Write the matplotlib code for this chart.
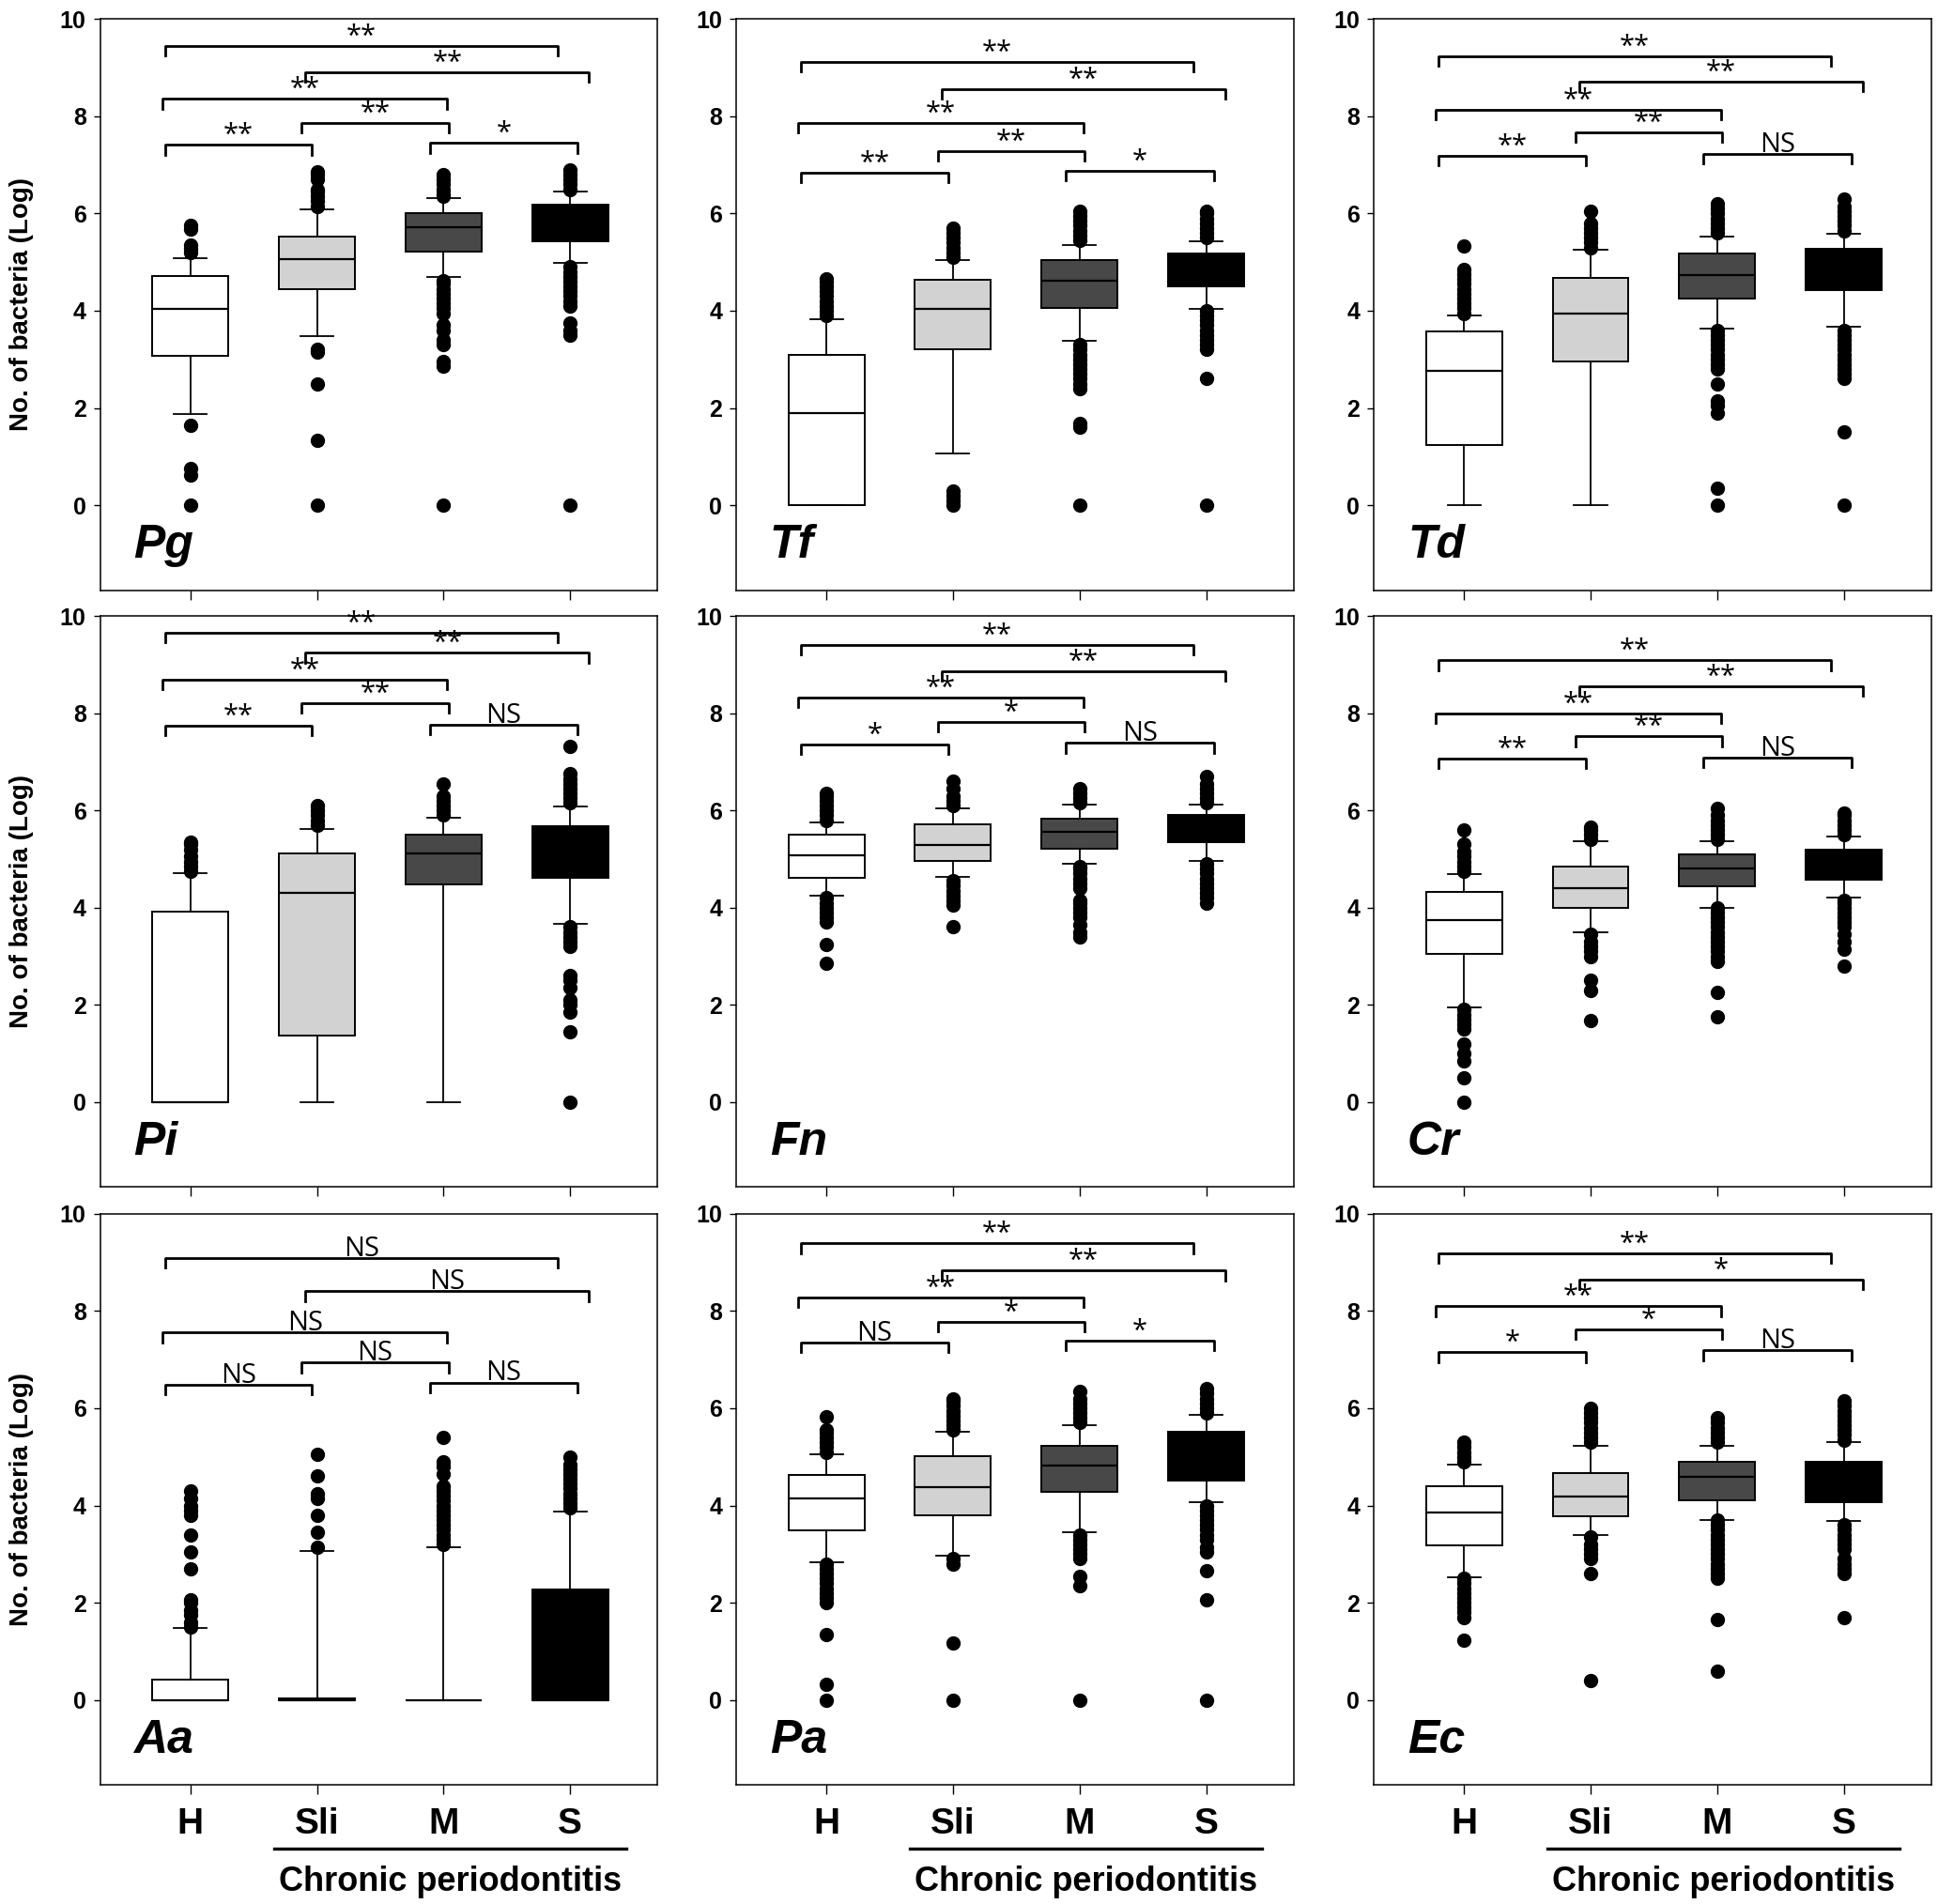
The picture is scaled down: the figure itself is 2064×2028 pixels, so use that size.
import matplotlib
matplotlib.use('Agg')
import matplotlib.pyplot as plt
from matplotlib import transforms

plt.rcParams['font.family'] = ['Liberation Sans', 'DejaVu Sans']

# Gruppen und Farben
groups = ['H', 'Sli', 'M', 'S']
box_colors = ['#ffffff', '#d2d2d2', '#484848', '#000000']

# Klammern: H-S, Sli-S, H-M, Sli-M, H-Sli, M-S
bracket_x = [(0.80, 3.90), (1.91, 4.15), (0.78, 3.03),
             (1.88, 3.04), (0.80, 1.96), (2.89, 4.06)]

# je Gruppe: [unterer Whisker, Q1, Median, Q3, oberer Whisker]
pg_stats = [[1.88, 3.07, 4.04, 4.71, 5.09], [3.48, 4.44, 5.06, 5.52, 6.09],
            [4.69, 5.22, 5.71, 6.01, 6.32], [4.99, 5.42, 5.85, 6.18, 6.46]]
pg_fliers = [[0, 0.62, 0.75, 1.65, 5.2, 5.27, 5.35, 5.67, 5.75],
             [0, 1.33, 2.5, 3.15, 3.2, 6.15, 6.25, 6.35, 6.45, 6.5, 6.7, 6.8, 6.85],
             [0, 2.85, 2.95, 3.3, 3.4, 3.6, 3.7, 3.95, 4.05, 4.15, 4.25, 4.35, 4.45, 4.55, 4.62,
              6.35, 6.4, 6.5, 6.6, 6.7, 6.8],
             [0, 3.5, 3.6, 3.75, 4.1, 4.2, 4.3, 4.4, 4.5, 4.6, 4.7, 4.8, 4.9,
              6.5, 6.6, 6.7, 6.8, 6.9]]
pg_sig = ['**', '**', '**', '**', '**', '*']
pg_levels = [9.45, 8.91, 8.36, 7.87, 7.41, 7.45]

tf_stats = [[0, 0, 1.89, 3.09, 3.83], [1.06, 3.21, 4.04, 4.63, 5.05],
            [3.39, 4.06, 4.61, 5.05, 5.36], [4.04, 4.51, 4.85, 5.17, 5.42]]
tf_fliers = [[3.9, 4.0, 4.1, 4.2, 4.3, 4.4, 4.5, 4.6, 4.65],
             [0, 0.1, 0.2, 0.3, 5.1, 5.2, 5.3, 5.4, 5.5, 5.6, 5.7],
             [0, 1.6, 1.68, 2.4, 2.5, 2.6, 2.7, 2.8, 2.9, 3.0, 3.1, 3.2, 3.3,
              5.45, 5.55, 5.65, 5.75, 5.85, 5.95, 6.05],
             [0, 2.6, 3.2, 3.3, 3.4, 3.5, 3.6, 3.7, 3.8, 3.9, 4.0,
              5.5, 5.6, 5.7, 5.8, 5.9, 6.0, 6.05]]
tf_sig = ['**', '**', '**', '**', '**', '*']
tf_levels = [9.12, 8.56, 7.87, 7.29, 6.84, 6.88]

td_stats = [[0, 1.23, 2.76, 3.57, 3.91], [0, 2.95, 3.95, 4.67, 5.25],
            [3.63, 4.25, 4.74, 5.18, 5.52], [3.67, 4.42, 4.85, 5.28, 5.58]]
td_fliers = [[3.95, 4.05, 4.15, 4.25, 4.35, 4.45, 4.55, 4.65, 4.75, 4.85, 5.34],
             [5.3, 5.4, 5.5, 5.6, 5.7, 5.8, 6.05],
             [0, 0.35, 1.9, 2.05, 2.15, 2.5, 2.8, 2.9, 3.0, 3.1, 3.2, 3.3, 3.4, 3.5, 3.6,
              5.6, 5.7, 5.8, 5.9, 6.0, 6.1, 6.2],
             [0, 1.5, 2.6, 2.7, 2.8, 2.9, 3.0, 3.1, 3.2, 3.3, 3.4, 3.5, 3.6,
              5.65, 5.75, 5.85, 5.95, 6.05, 6.15, 6.3]]
td_sig = ['**', '**', '**', '**', '**', 'NS']
td_levels = [9.24, 8.71, 8.14, 7.67, 7.19, 7.23]

pi_stats = [[0, 0, 0, 3.92, 4.70], [0, 1.37, 4.30, 5.12, 5.61],
            [0, 4.47, 5.11, 5.50, 5.85], [3.66, 4.62, 5.2, 5.68, 6.09]]
pi_fliers = [[4.75, 4.85, 4.95, 5.05, 5.2, 5.3, 5.35],
             [5.7, 5.8, 5.9, 6.0, 6.1],
             [5.9, 6.0, 6.1, 6.2, 6.3, 6.55],
             [0, 1.45, 1.85, 2.0, 2.1, 2.35, 2.5, 2.6, 3.2, 3.3, 3.4, 3.5, 3.6,
              6.15, 6.25, 6.35, 6.45, 6.55, 6.65, 6.75, 7.32]]
pi_sig = ['**', '**', '**', '**', '**', 'NS']
pi_levels = [9.66, 9.24, 8.69, 8.21, 7.74, 7.76]

fn_stats = [[4.24, 4.61, 5.07, 5.51, 5.76], [4.63, 4.96, 5.28, 5.72, 6.04],
            [4.90, 5.21, 5.55, 5.82, 6.12], [4.97, 5.34, 5.6, 5.90, 6.11]]
fn_fliers = [[2.85, 3.25, 3.7, 3.8, 3.9, 4.0, 4.1, 4.2, 5.8, 5.9, 6.0, 6.1, 6.2, 6.3, 6.35],
             [3.6, 4.05, 4.15, 4.25, 4.35, 4.45, 4.55, 6.1, 6.2, 6.3, 6.45, 6.6],
             [3.4, 3.5, 3.65, 3.8, 3.9, 4.0, 4.1, 4.15, 4.4, 4.5, 4.6, 4.7, 4.8, 4.85,
              6.15, 6.25, 6.35, 6.45],
             [4.1, 4.2, 4.3, 4.4, 4.5, 4.6, 4.7, 4.8, 4.9,
              6.15, 6.25, 6.35, 6.45, 6.55, 6.7]]
fn_sig = ['**', '**', '**', '*', '*', 'NS']
fn_levels = [9.41, 8.87, 8.32, 7.82, 7.36, 7.39]

cr_stats = [[1.94, 3.04, 3.74, 4.33, 4.69], [3.49, 4.00, 4.41, 4.85, 5.36],
            [4.00, 4.43, 4.80, 5.09, 5.36], [4.20, 4.57, 4.9, 5.20, 5.47]]
cr_fliers = [[0, 0.5, 0.85, 1.0, 1.2, 1.5, 1.6, 1.7, 1.8, 1.9,
              4.75, 4.85, 4.95, 5.05, 5.15, 5.3, 5.6],
             [1.68, 2.3, 2.5, 3.0, 3.1, 3.2, 3.3, 3.45, 5.4, 5.5, 5.6, 5.65],
             [1.75, 2.25, 2.9, 3.0, 3.1, 3.2, 3.3, 3.4, 3.5, 3.6, 3.7, 3.8, 3.9, 4.0,
              5.4, 5.5, 5.6, 5.7, 5.8, 5.9, 6.05],
             [2.8, 3.15, 3.3, 3.45, 3.6, 3.7, 3.8, 3.9, 4.0, 4.1, 4.15,
              5.5, 5.6, 5.7, 5.8, 5.9, 5.95]]
cr_sig = ['**', '**', '**', '**', '**', 'NS']
cr_levels = [9.09, 8.55, 8.00, 7.52, 7.07, 7.09]

aa_stats = [[0, 0, 0, 0.42, 1.48], [0, 0, 0, 0.03, 3.06],
            [0, 0, 0, 0, 3.14], [0, 0, 0, 2.27, 3.88]]
aa_fliers = [[1.5, 1.6, 1.75, 1.85, 2.0, 2.05, 2.7, 3.05, 3.4, 3.8, 3.9, 4.0, 4.15, 4.3],
             [3.15, 3.45, 3.8, 4.15, 4.25, 4.6, 5.05],
             [3.2, 3.3, 3.4, 3.5, 3.6, 3.7, 3.8, 3.9, 4.0, 4.1, 4.2, 4.3, 4.4, 4.65, 4.8, 4.9, 5.4],
             [3.95, 4.05, 4.15, 4.25, 4.35, 4.45, 4.55, 4.65, 4.75, 4.85, 5.0]]
aa_sig = ['NS', 'NS', 'NS', 'NS', 'NS', 'NS']
aa_levels = [9.09, 8.41, 7.56, 6.94, 6.48, 6.53]

pa_stats = [[2.84, 3.49, 4.14, 4.62, 5.06], [2.97, 3.80, 4.38, 5.02, 5.51],
            [3.45, 4.28, 4.83, 5.23, 5.65], [4.06, 4.52, 5.0, 5.51, 5.86]]
pa_fliers = [[0, 0.33, 1.35, 2.0, 2.1, 2.2, 2.3, 2.4, 2.5, 2.6, 2.7, 2.8,
              5.1, 5.2, 5.3, 5.4, 5.5, 5.55, 5.82],
             [0, 1.17, 2.8, 2.9, 5.55, 5.65, 5.75, 5.85, 5.95, 6.05, 6.15, 6.2],
             [0, 2.35, 2.55, 2.9, 3.0, 3.1, 3.2, 3.3, 3.4,
              5.7, 5.8, 5.9, 6.0, 6.1, 6.2, 6.35],
             [0, 2.05, 2.65, 3.05, 3.15, 3.3, 3.4, 3.5, 3.6, 3.7, 3.8, 3.9, 4.0,
              5.9, 6.0, 6.1, 6.2, 6.3, 6.4]]
pa_sig = ['**', '**', '**', '*', 'NS', '*']
pa_levels = [9.39, 8.83, 8.28, 7.78, 7.35, 7.39]

ec_stats = [[2.53, 3.18, 3.86, 4.39, 4.84], [3.39, 3.77, 4.18, 4.66, 5.23],
            [3.71, 4.10, 4.59, 4.89, 5.23], [3.69, 4.06, 4.5, 4.89, 5.31]]
ec_fliers = [[1.22, 1.7, 1.8, 1.9, 2.0, 2.1, 2.2, 2.3, 2.4, 2.5, 4.9, 5.0, 5.1, 5.2, 5.3],
             [0.4, 2.6, 2.9, 3.0, 3.1, 3.2, 3.35, 5.3, 5.4, 5.5, 5.6, 5.7, 5.8, 5.9, 6.0],
             [0.6, 1.65, 2.5, 2.6, 2.7, 2.8, 2.9, 3.0, 3.1, 3.2, 3.3, 3.4, 3.5, 3.6, 3.7,
              5.3, 5.4, 5.5, 5.6, 5.7, 5.8],
             [1.7, 2.6, 2.7, 2.8, 2.9, 3.1, 3.2, 3.3, 3.4, 3.5, 3.6,
              5.35, 5.45, 5.55, 5.65, 5.75, 5.85, 5.95, 6.05, 6.15]]
ec_sig = ['**', '*', '**', '*', '*', 'NS']
ec_levels = [9.19, 8.65, 8.10, 7.62, 7.15, 7.19]

panels = [('Pg', pg_stats, pg_fliers, pg_sig, pg_levels),
          ('Tf', tf_stats, tf_fliers, tf_sig, tf_levels),
          ('Td', td_stats, td_fliers, td_sig, td_levels),
          ('Pi', pi_stats, pi_fliers, pi_sig, pi_levels),
          ('Fn', fn_stats, fn_fliers, fn_sig, fn_levels),
          ('Cr', cr_stats, cr_fliers, cr_sig, cr_levels),
          ('Aa', aa_stats, aa_fliers, aa_sig, aa_levels),
          ('Pa', pa_stats, pa_fliers, pa_sig, pa_levels),
          ('Ec', ec_stats, ec_fliers, ec_sig, ec_levels)]

col_left = [0.0518, 0.380, 0.709]
row_bottom = [0.690, 0.3765, 0.0625]
ax_w, ax_h = 0.2875, 0.300
sig_font = ['Open Sans', 'DejaVu Sans']


def draw_panel(ax, name, stats, fliers, sig, levels, bottom, first_col):
    bstats = []
    for st, fl in zip(stats, fliers):
        bstats.append(dict(whislo=st[0], q1=st[1], med=st[2], q3=st[3],
                           whishi=st[4], fliers=fl))
    art = ax.bxp(bstats, positions=[1, 2, 3, 4], widths=0.6, capwidths=0.26,
                 patch_artist=True, manage_ticks=False,
                 boxprops=dict(edgecolor='black', linewidth=1.4),
                 medianprops=dict(color='black', linewidth=1.6),
                 whiskerprops=dict(color='black', linewidth=1.3),
                 capprops=dict(color='black', linewidth=1.3),
                 flierprops=dict(marker='o', markerfacecolor='black',
                                 markeredgecolor='black', markersize=10))
    for patch, c in zip(art['boxes'], box_colors):
        patch.set_facecolor(c)

    # Signifikanz-Klammern
    for (x1, x2), y, lab in zip(bracket_x, levels, sig):
        ax.plot([x1, x1, x2, x2], [y - 0.2, y, y, y - 0.2], color='black', lw=2.0)
        ax.text((x1 + x2) / 2, y + 0.04, lab, ha='center', va='baseline',
                fontsize=21, family=sig_font)

    ax.text(0.06, 0.057, name, transform=ax.transAxes, fontsize=36,
            fontweight='bold', fontstyle='italic')

    ax.set_xlim(0.29, 4.69)
    ax.set_ylim(-1.75, 10)
    ax.set_yticks(range(0, 11, 2))
    ax.set_xticks([1, 2, 3, 4])
    ax.tick_params(axis='y', direction='out', length=5, width=1, pad=6,
                   labelsize=18)
    ax.tick_params(axis='x', direction='out', length=7, width=1, pad=10)
    for lbl in ax.get_yticklabels():
        lbl.set_fontweight('bold')
    for sp in ax.spines.values():
        sp.set_linewidth(1.1)

    if bottom:
        ax.set_xticklabels(groups, fontsize=28, fontweight='bold')
        tr = transforms.blended_transform_factory(ax.transData, ax.transAxes)
        ax.plot([1.66, 4.44], [-0.112, -0.112], color='black', lw=2.4,
                transform=tr, clip_on=False)
        ax.text(3.05, -0.169, 'Chronic periodontitis', transform=tr,
                ha='center', va='center', fontsize=26, fontweight='bold')
    else:
        ax.set_xticklabels([])

    if first_col:
        ax.set_ylabel('No. of bacteria (Log)', fontsize=20, fontweight='bold')
        ax.yaxis.set_label_coords(-0.12, 0.5)


fig = plt.figure(figsize=(20.64, 20.28), dpi=100)
for i, (name, stats, fliers, sig, levels) in enumerate(panels):
    r, c = divmod(i, 3)
    ax = fig.add_axes([col_left[c], row_bottom[r], ax_w, ax_h])
    draw_panel(ax, name, stats, fliers, sig, levels, r == 2, c == 0)

fig.savefig('out.png', dpi=100)
